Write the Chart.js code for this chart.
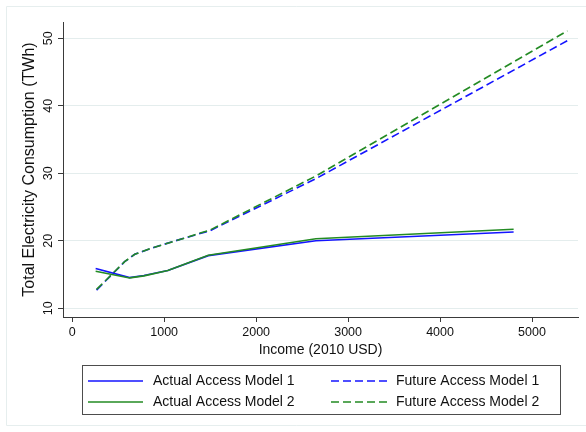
<!DOCTYPE html>
<html>
<head>
<meta charset="utf-8">
<script src="https://cdn.jsdelivr.net/npm/chart.js@4/dist/chart.umd.min.js"></script>
<style>
  html, body { margin: 0; padding: 0; background: #fff; }
  #wrap { width: 586px; height: 432px; position: relative; }
</style>
</head>
<body>
<div id="wrap"><canvas id="chart" width="586" height="432"></canvas></div>
<script>
// Income (2010 USD) and total consumption (TWh) for each access scenario
const incomeActual = [255, 625, 780, 1040, 1480, 2650, 4800];
const actualModel1 = [15.9, 14.55, 14.85, 15.6, 17.8, 20.0, 21.3];
const actualModel2 = [15.5, 14.5, 14.8, 15.6, 17.85, 20.3, 21.7];

const incomeFuture = [265, 570, 680, 860, 1220, 1500, 2650, 5385];
const futureModel1 = [12.7, 16.9, 18.0, 18.9, 20.4, 21.5, 29.2, 49.65];
const futureModel2 = [12.8, 16.9, 18.0, 18.9, 20.4, 21.6, 29.6, 51.1];

const seriesLabels = ['Actual Access Model 1', 'Future Access Model 1',
                      'Actual Access Model 2', 'Future Access Model 2'];

const xTicks = [0, 1000, 2000, 3000, 4000, 5000];
const yTicks = [10, 20, 30, 40, 50];

const BLUE = '#1414ff';
const GREEN = '#238b23';
const AXIS = '#3a3a3a';
const GRID = '#e4eded';
const TEXT = '#111111';
const FONT = "'Liberation Sans', Arial, Helvetica, sans-serif";

Chart.defaults.font.family = FONT;
Chart.defaults.color = TEXT;

const toPoints = (xs, ys) => xs.map((x, i) => ({ x: x, y: ys[i] }));
const plainNumber = v => String(v);

// White page with a faint outer frame
const framePlugin = {
  id: 'frame',
  beforeDraw(chart) {
    const ctx = chart.ctx;
    ctx.save();
    ctx.fillStyle = '#ffffff';
    ctx.fillRect(0, 0, chart.width, chart.height);
    ctx.strokeStyle = '#e6eeee';
    ctx.lineWidth = 1;
    ctx.beginPath();
    ctx.moveTo(6.5, 425.5);
    ctx.lineTo(6.5, 6.5);
    ctx.lineTo(600, 6.5);
    ctx.moveTo(6.5, 425.5);
    ctx.lineTo(600, 425.5);
    ctx.stroke();
    ctx.restore();
  }
};

// Boxed two-column legend under the x axis title
const boxLegend = {
  id: 'boxLegend',
  afterDraw(chart) {
    const ctx = chart.ctx;
    const box = { x: 82.5, y: 365.5, w: 478, h: 49 };
    ctx.save();
    ctx.fillStyle = '#ffffff';
    ctx.fillRect(box.x, box.y, box.w, box.h);
    ctx.strokeStyle = '#4d4d4d';
    ctx.lineWidth = 1;
    ctx.strokeRect(box.x, box.y, box.w, box.h);

    const cols = [{ lx0: 88, lx1: 143, tx: 153 }, { lx0: 331, lx1: 387, tx: 396 }];
    const rows = [381, 402];
    ctx.font = '14px ' + FONT;
    ctx.textBaseline = 'middle';
    ctx.textAlign = 'left';
    chart.data.datasets.forEach((ds, i) => {
      const c = cols[i % 2];
      const y = rows[Math.floor(i / 2)];
      ctx.strokeStyle = ds.borderColor;
      ctx.lineWidth = ds.borderWidth;
      ctx.setLineDash(ds.borderDash || []);
      ctx.beginPath();
      ctx.moveTo(c.lx0, y);
      ctx.lineTo(c.lx1, y);
      ctx.stroke();
      ctx.setLineDash([]);
      ctx.fillStyle = TEXT;
      ctx.fillText(ds.label, c.tx, y + 0.5);
    });
    ctx.restore();
  }
};

const lineStyle = (color, dashed, order) => ({
  borderColor: color,
  backgroundColor: color,
  borderWidth: 1.6,
  borderDash: dashed ? [8, 4] : [],
  pointRadius: 0,
  pointHoverRadius: 0,
  tension: 0,
  fill: false,
  order: order
});

new Chart(document.getElementById('chart'), {
  type: 'line',
  data: {
    datasets: [
      Object.assign({ label: seriesLabels[0], data: toPoints(incomeActual, actualModel1) }, lineStyle(BLUE, false, 4)),
      Object.assign({ label: seriesLabels[1], data: toPoints(incomeFuture, futureModel1) }, lineStyle(BLUE, true, 3)),
      Object.assign({ label: seriesLabels[2], data: toPoints(incomeActual, actualModel2) }, lineStyle(GREEN, false, 2)),
      Object.assign({ label: seriesLabels[3], data: toPoints(incomeFuture, futureModel2) }, lineStyle(GREEN, true, 1))
    ]
  },
  options: {
    responsive: false,
    devicePixelRatio: 1,
    animation: false,
    layout: { padding: { left: 20, top: 22, right: 8, bottom: 73 } },
    plugins: {
      legend: { display: false },
      tooltip: { enabled: false }
    },
    scales: {
      x: {
        type: 'linear',
        min: -100,
        max: 5500,
        afterBuildTicks: s => { s.ticks = xTicks.map(v => ({ value: v })); },
        afterFit: s => { s.height = 42; },
        grid: { drawOnChartArea: false, tickLength: 5, color: AXIS, tickColor: AXIS, lineWidth: 1 },
        border: { display: true, color: AXIS, width: 1 },
        ticks: { font: { size: 12.5 }, color: TEXT, padding: 3, minRotation: 0, maxRotation: 0, callback: plainNumber },
        title: { display: true, text: 'Income (2010 USD)', font: { size: 14 }, color: TEXT, padding: 0 }
      },
      y: {
        type: 'linear',
        min: 8.71,
        max: 52.41,
        afterBuildTicks: s => { s.ticks = yTicks.map(v => ({ value: v })); },
        afterFit: s => { s.width = 43; },
        grid: { drawOnChartArea: true, tickLength: 5, color: GRID, tickColor: AXIS, lineWidth: 1 },
        border: { display: true, color: AXIS, width: 1 },
        ticks: { font: { size: 12.5 }, color: TEXT, padding: 3, minRotation: 90, maxRotation: 90, crossAlign: 'center', callback: plainNumber },
        title: { display: true, text: 'Total Electricity Consumption (TWh)', font: { size: 16 }, color: TEXT, padding: 0 }
      }
    }
  },
  plugins: [framePlugin, boxLegend]
});
</script>
</body>
</html>
